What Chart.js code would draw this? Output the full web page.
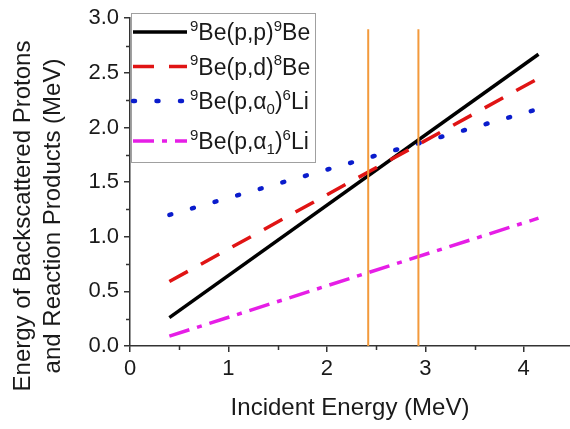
<!DOCTYPE html>
<html>
<head>
<meta charset="utf-8">
<script src="https://cdn.jsdelivr.net/npm/chart.js@4.4.1/dist/chart.umd.min.js"></script>
<style>
  html, body { margin: 0; padding: 0; background: #fff; }
  canvas { display: block; }
</style>
</head>
<body>
<canvas id="energyChart" width="570" height="429"></canvas>
<script>
// incident proton energy at both ends of each curve (MeV)
const incidentRange = [0.4, 4.15];
// outgoing particle energies at those two incident energies (MeV)
const ppEnergy = [0.26, 2.67];
const pdEnergy = [0.59, 2.45];
const pAlpha0Energy = [1.2, 2.17];
const pAlpha1Energy = [0.09, 1.17];
// resonance markers
const markerEnergies = [2.42, 2.93];
const markerSpan = [0, 2.9];

// ^x = superscript char, _x = subscript char
const reactionLabels = ['^9Be(p,p)^9Be', '^9Be(p,d)^8Be', '^9Be(p,α_0)^6Li', '^9Be(p,α_1)^6Li'];
const xTicks = [0, 1, 2, 3, 4];
const xMinorTicks = [0.5, 1.5, 2.5, 3.5];
const yTicks = [0, 0.5, 1, 1.5, 2, 2.5, 3];
const yMinorTicks = [0.25, 0.75, 1.25, 1.75, 2.25, 2.75];
const xTitle = 'Incident Energy (MeV)';
const yTitle = ['Energy of Backscattered Protons', 'and Reaction Products (MeV)'];

const FONT = '"Liberation Sans", Arial, sans-serif';
const AXIS = '#333';
const TEXT = '#1a1a1a';

const toPoints = ys => incidentRange.map((x, i) => ({ x: x, y: ys[i] }));
const marker = e => markerSpan.map(y => ({ x: e, y: y }));

const reactions = [
    { data: ppEnergy, color: '#000000', dash: [], cap: 'butt', width: 3.5, order: 2 },
    { data: pdEnergy, color: '#e01414', dash: [21, 15], cap: 'butt', width: 3.5, order: 1 },
    { data: pAlpha0Energy, color: '#0a1ccc', dash: [2, 21.5], cap: 'round', width: 4.5, order: 3 },
    { data: pAlpha1Energy, color: '#e61ee6', dash: [21, 8, 5, 8], cap: 'butt', width: 3.5, order: 4 }
];

const datasets = reactions.map((r, i) => ({
    label: reactionLabels[i],
    data: toPoints(r.data),
    borderColor: r.color,
    borderWidth: r.width,
    borderDash: r.dash,
    borderCapStyle: r.cap,
    pointRadius: 0,
    order: r.order
}));

markerEnergies.forEach(e => {
    datasets.push({
        label: 'marker',
        data: marker(e),
        borderColor: '#f39a3c',
        borderWidth: 2,
        pointRadius: 0,
        order: 0
    });
});

// draws text with ^ / _ markers as super- and subscripts
const drawRich = (ctx, text, x, y, size) => {
    let i = 0;
    while (i < text.length) {
        let ch = text[i];
        let mode = '';
        if (ch === '^' || ch === '_') {
            mode = ch;
            ch = text[i + 1];
            i += 2;
        } else {
            i++;
        }
        if (mode === '') {
            ctx.font = size + 'px ' + FONT;
            ctx.fillText(ch, x, y);
        } else {
            ctx.font = Math.round(size * 0.65) + 'px ' + FONT;
            ctx.fillText(ch, x, mode === '^' ? y - size * 0.4 : y + size * 0.22);
        }
        x += ctx.measureText(ch).width;
    }
};

const extrasPlugin = {
    id: 'extras',
    afterDraw(chart) {
        const ctx = chart.ctx;
        const xs = chart.scales.x;
        const ys = chart.scales.y;
        const area = chart.chartArea;

        // minor ticks
        ctx.save();
        ctx.strokeStyle = AXIS;
        ctx.lineWidth = 1.5;
        ctx.beginPath();
        xMinorTicks.forEach(v => {
            const px = Math.round(xs.getPixelForValue(v)) + 0.5;
            ctx.moveTo(px, area.bottom);
            ctx.lineTo(px, area.bottom + 4);
        });
        yMinorTicks.forEach(v => {
            const py = Math.round(ys.getPixelForValue(v)) + 0.5;
            ctx.moveTo(area.left, py);
            ctx.lineTo(area.left - 4, py);
        });
        ctx.stroke();

        // y axis title, two lines
        ctx.fillStyle = TEXT;
        ctx.font = '24px ' + FONT;
        ctx.textAlign = 'center';
        ctx.textBaseline = 'middle';
        ctx.translate(0, 216);
        ctx.rotate(-Math.PI / 2);
        yTitle.forEach((line, i) => ctx.fillText(line, 0, 23 + i * 30));
        ctx.restore();

        // legend
        ctx.save();
        const box = { x: 131.5, y: 13.5, w: 184, h: 149 };
        ctx.fillStyle = '#fff';
        ctx.fillRect(box.x, box.y, box.w, box.h);
        ctx.strokeStyle = '#a0a0a0';
        ctx.lineWidth = 1;
        ctx.strokeRect(box.x, box.y, box.w, box.h);
        ctx.textAlign = 'left';
        ctx.textBaseline = 'alphabetic';
        ctx.fillStyle = TEXT;
        let rowY = 32;
        reactions.forEach((r, i) => {
            ctx.beginPath();
            ctx.strokeStyle = r.color;
            ctx.lineWidth = r.width;
            ctx.lineCap = r.cap;
            ctx.setLineDash(r.dash);
            ctx.moveTo(133, rowY);
            ctx.lineTo(187, rowY);
            ctx.stroke();
            ctx.setLineDash([]);
            drawRich(ctx, reactionLabels[i], 190, rowY + 8, 23);
            rowY += 34.5 + (reactionLabels[i].includes('_') ? 5.5 : 0);
        });
        ctx.restore();
    }
};

new Chart(document.getElementById('energyChart'), {
    type: 'line',
    data: { datasets: datasets },
    options: {
        responsive: false,
        animation: false,
        devicePixelRatio: 1,
        layout: { padding: { top: 16, right: 0, left: 0, bottom: 0 } },
        plugins: {
            legend: { display: false },
            tooltip: { enabled: false }
        },
        scales: {
            x: {
                type: 'linear',
                min: 0,
                max: 4.47,
                afterBuildTicks: scale => { scale.ticks = xTicks.map(v => ({ value: v })); },
                afterFit: scale => { scale.height = 83; },
                grid: { drawOnChartArea: false, tickLength: 6, color: AXIS, lineWidth: 1.5 },
                border: { color: AXIS, width: 1.5 },
                ticks: {
                    color: TEXT,
                    padding: 4,
                    maxRotation: 0,
                    font: { family: FONT, size: 22 },
                    callback: v => String(v)
                },
                title: {
                    display: true,
                    text: xTitle,
                    color: TEXT,
                    font: { family: FONT, size: 24 },
                    padding: { top: 0, bottom: 6 }
                }
            },
            y: {
                type: 'linear',
                min: 0,
                max: 3,
                afterBuildTicks: scale => { scale.ticks = yTicks.map(v => ({ value: v })); },
                afterFit: scale => { scale.width = 130; },
                grid: { drawOnChartArea: false, tickLength: 6, color: AXIS, lineWidth: 1.5 },
                border: { color: AXIS, width: 1.5 },
                ticks: {
                    color: TEXT,
                    padding: 5,
                    font: { family: FONT, size: 22 },
                    callback: v => v.toFixed(1)
                }
            }
        }
    },
    plugins: [extrasPlugin]
});
</script>
</body>
</html>
